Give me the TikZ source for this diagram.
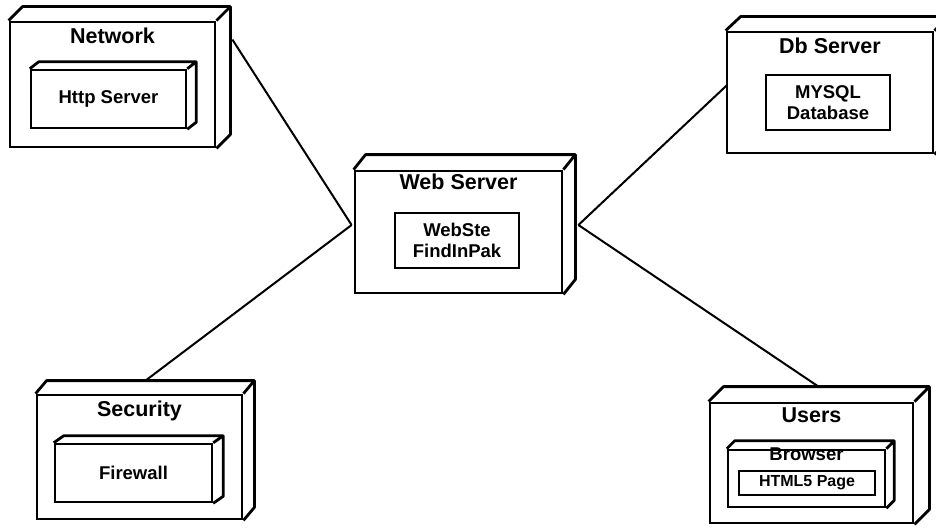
\documentclass[tikz,border=0pt]{standalone}
\usepackage{fontspec}
\setmainfont{Liberation Sans}
\usetikzlibrary{positioning, calc}
\tikzset{
  devnode/.style={
    rectangle, draw, line width=2.8pt, inner sep=0pt,
    fill=white
  },
  artnode/.style={
    rectangle, draw, line width=2.5pt, inner sep=0pt,
    align=center, font=\fontsize{18.5}{20.5}\selectfont\bfseries
  },
  devtitle/.style={
    inner sep=0pt, font=\fontsize{21.5}{23}\selectfont\bfseries
  },
  depthline/.style={line width=2.8pt, line join=round},
  linkline/.style={line width=2pt},
}
% top and right faces of a 3D node: name, dx, dy
\newcommand{\nodedepth}[3]{%
  \draw[depthline] (#1.north west) -- ([shift={(#2,-#3)}]#1.north west)
        -- ([shift={(#2,-#3)}]#1.north east) -- ([shift={(#2,-#3)}]#1.south east)
        -- (#1.south east)
        (#1.north east) -- ([shift={(#2,-#3)}]#1.north east);
}

\begin{document}
\begin{tikzpicture}[x=1pt,y=-1pt]
\useasboundingbox (0,0) rectangle (936,527);
% web server in the middle
\node[devnode,minimum width=207,minimum height=122] (web) at (458.5,232) {};
\nodedepth{web}{12}{15}
\node[devtitle,below=4pt of web.north] (webT) {Web Server};
\node[artnode,minimum width=124,minimum height=55] (site) at (457,240.5)
     {WebSte\\FindInPak};

% network
\node[devnode,minimum width=205,minimum height=125] (net) at (112.5,84.5) {};
\nodedepth{net}{14}{14}
\node[devtitle,below=7pt of net.north] (netT) {Network};
\node[artnode,minimum width=155,minimum height=58] (http) at (108.5,99) {Http Server};
\nodedepth{http}{9}{7}

% db server
\node[devnode,minimum width=206,minimum height=121] (db) at (830,92.5) {};
\nodedepth{db}{15}{14}
\node[devtitle,below=7pt of db.north] (dbT) {Db Server};
\node[artnode,minimum width=124,minimum height=55] (mysql) at (828,102.5)
     {MYSQL\\Database};

% security
\node[devnode,minimum width=205,minimum height=124] (sec) at (139.5,457) {};
\nodedepth{sec}{11}{13}
\node[devtitle,below=7pt of sec.north] (secT) {Security};
\node[artnode,minimum width=157,minimum height=58] (fw) at (133.5,473) {Firewall};
\nodedepth{fw}{10}{7}

% users
\node[devnode,minimum width=203,minimum height=120] (usr) at (811.5,463) {};
\nodedepth{usr}{15}{15}
\node[devtitle,below=6pt of usr.north] (usrT) {Users};
\node[artnode,minimum width=157,minimum height=57] (brw) at (806.5,478.5) {};
\nodedepth{brw}{8}{8}
\node[devtitle,font=\fontsize{18.5}{20}\selectfont\bfseries,
      below=-1pt of brw.north] (brwT) {Browser};
\node[artnode,font=\fontsize{16}{18}\selectfont\bfseries,
      minimum width=136,minimum height=24] (page) at (807,483) {HTML5 Page};

% links
\draw[linkline] ([shift={(16,19)}]net.north east) -- ([shift={(-2,-7)}]web.west);
\draw[linkline] ([shift={(6,-13)}]sec.north) -- ([shift={(-2,-7)}]web.west);
\draw[linkline] ([shift={(1,-7)}]db.west) -- ([shift={(15,-7)}]web.east);
\draw[linkline] ([shift={(7,-15)}]usr.north) -- ([shift={(15,-7)}]web.east);
\end{tikzpicture}
\end{document}
